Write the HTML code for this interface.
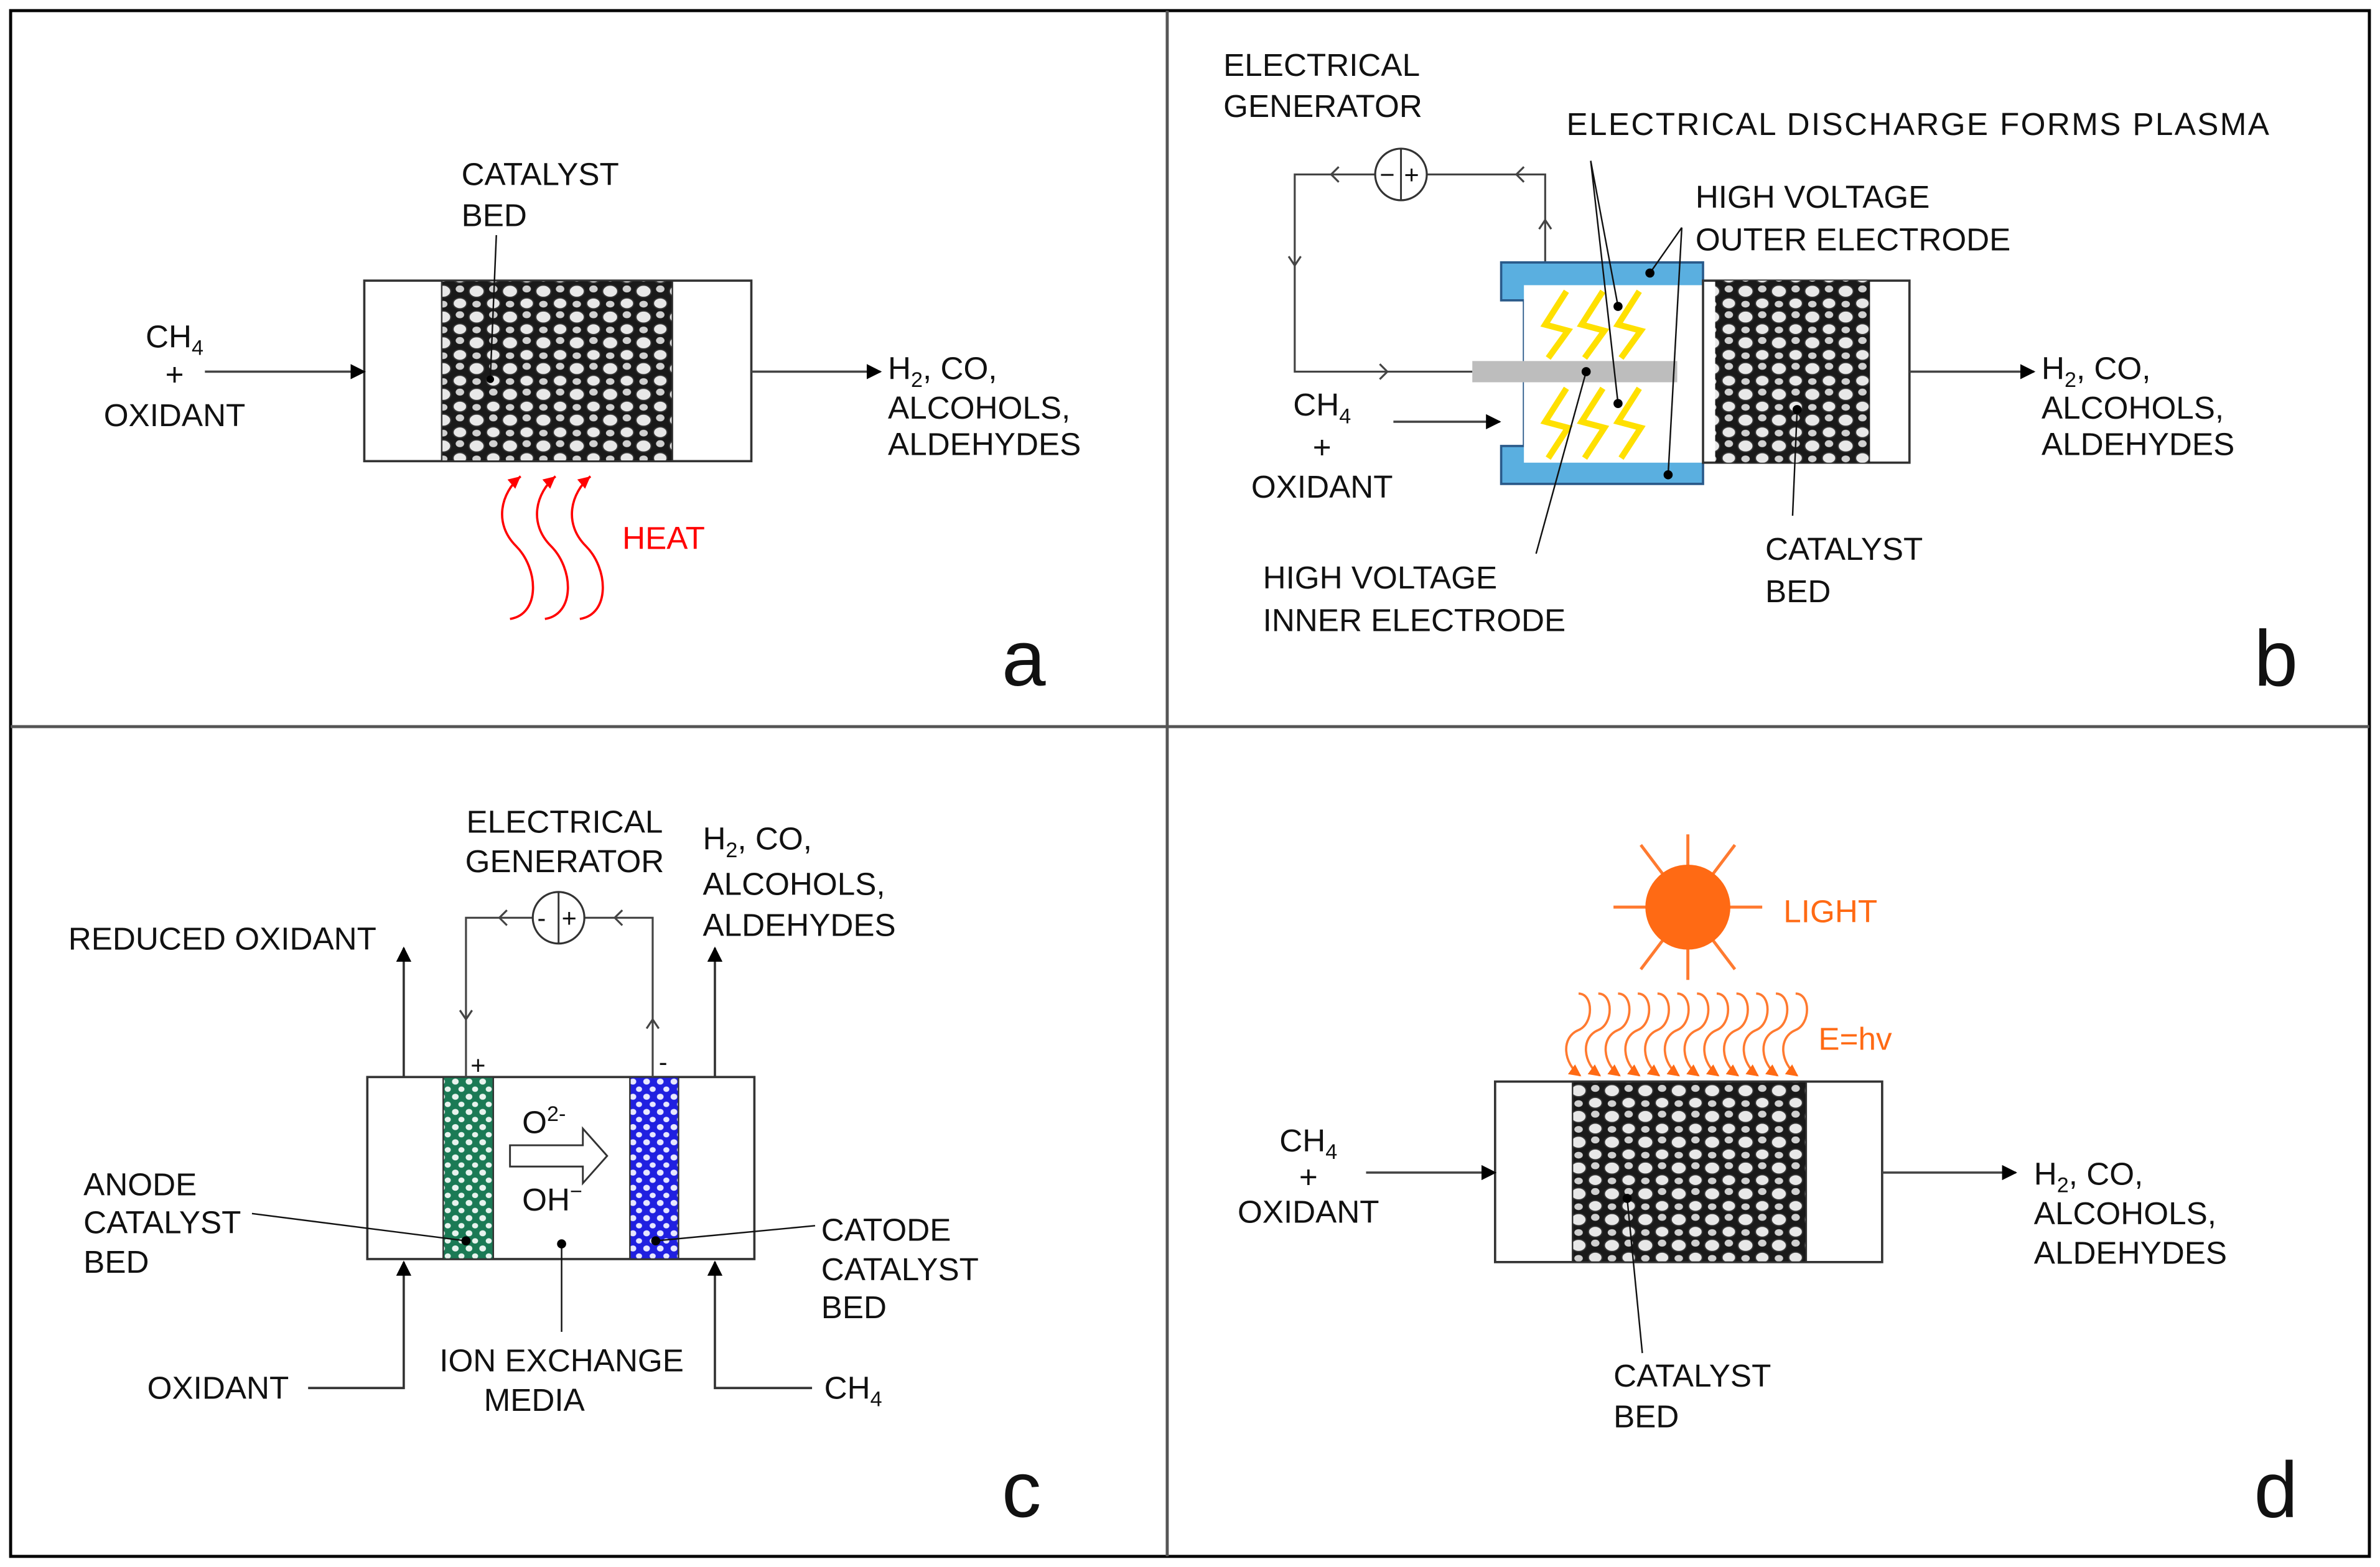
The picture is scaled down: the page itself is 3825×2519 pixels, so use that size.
<!DOCTYPE html>
<html><head><meta charset="utf-8"><style>html,body{margin:0;padding:0;background:#fff}svg{display:block}text{font-family:"Liberation Sans",sans-serif;font-size:21px;fill:#111}</style></head><body>
<svg width="3825" height="2519" viewBox="0 0 1568 1033" preserveAspectRatio="none" xmlns="http://www.w3.org/2000/svg">
<defs>
<pattern id="bed" width="22" height="17" patternUnits="userSpaceOnUse">
<rect width="22" height="17" fill="#1a1a1a"/>
<ellipse cx="6" cy="5" rx="5" ry="4" fill="#e8e8e8" stroke="#333" stroke-width="0.8"/>
<ellipse cx="17" cy="13" rx="4.5" ry="3.6" fill="#e8e8e8" stroke="#333" stroke-width="0.8"/>
<ellipse cx="17" cy="3.5" rx="2.8" ry="2.3" fill="#d0d0d0"/>
<ellipse cx="6" cy="13.5" rx="2.8" ry="2.2" fill="#d0d0d0"/>
</pattern>
<pattern id="bedG" width="9" height="10" patternUnits="userSpaceOnUse">
<rect width="9" height="10" fill="#1b7a55"/>
<ellipse cx="3" cy="3" rx="2.2" ry="2" fill="#e8f3ee"/>
<ellipse cx="7" cy="8" rx="2" ry="1.8" fill="#e8f3ee"/>
</pattern>
<pattern id="bedB" width="9" height="10" patternUnits="userSpaceOnUse">
<rect width="9" height="10" fill="#2020e0"/>
<ellipse cx="3" cy="3" rx="2.2" ry="2" fill="#e8e8ff"/>
<ellipse cx="7" cy="8" rx="2" ry="1.8" fill="#e8e8ff"/>
</pattern>
<marker id="ah" markerWidth="10" markerHeight="10" refX="9" refY="5" orient="auto" markerUnits="userSpaceOnUse"><path d="M0,0 L10,5 L0,10 z" fill="#000"/></marker>
<marker id="ahr" markerWidth="8" markerHeight="10" refX="8" refY="4" orient="auto" markerUnits="userSpaceOnUse"><path d="M0,0 L8,4 L0,8 z" fill="#f00"/></marker>
<marker id="aho" markerWidth="8" markerHeight="8" refX="7" refY="4" orient="auto" markerUnits="userSpaceOnUse"><path d="M0,0 L8,4 L0,8 z" fill="#ff6a14"/></marker>
</defs>
<rect x="7" y="7" width="1554" height="1019" fill="none" stroke="#000" stroke-width="2"/>
<line x1="769" y1="7" x2="769" y2="1026" stroke="#555" stroke-width="2"/>
<line x1="7" y1="479" x2="1561" y2="479" stroke="#555" stroke-width="2"/>

<!-- PANEL A -->
<rect x="240" y="185" width="255" height="119" fill="#fff" stroke="#333" stroke-width="1.5"/>
<rect x="291" y="185" width="152" height="119" fill="url(#bed)" stroke="#333"/>
<line x1="135" y1="245" x2="240" y2="245" stroke="#444" stroke-width="1.5" marker-end="url(#ah)"/>
<line x1="495" y1="245" x2="580" y2="245" stroke="#444" stroke-width="1.5" marker-end="url(#ah)"/>
<text x="115" y="229" text-anchor="middle">CH<tspan font-size="14" dy="5">4</tspan></text>
<text x="115" y="254" text-anchor="middle">+</text>
<text x="115" y="281" text-anchor="middle">OXIDANT</text>
<text x="585" y="250">H<tspan font-size="14" dy="5">2</tspan><tspan dy="-5">, CO,</tspan></text>
<text x="585" y="276">ALCOHOLS,</text>
<text x="585" y="300">ALDEHYDES</text>
<text x="304" y="122">CATALYST</text>
<text x="304" y="149">BED</text>
<line x1="327" y1="155" x2="323" y2="250" stroke="#111" stroke-width="1"/>
<circle cx="323" cy="250" r="2.5" fill="#000"/>
<g fill="none" stroke="#f00" stroke-width="1.5">
<path d="M336,408 C356,405 355,375 340,360 C325,345 330,325 343,314" marker-end="url(#ahr)"/>
<path d="M359,408 C379,405 378,375 363,360 C348,345 353,325 366,314" marker-end="url(#ahr)"/>
<path d="M382,408 C402,405 401,375 386,360 C371,345 376,325 389,314" marker-end="url(#ahr)"/>
</g>
<text x="410" y="362" style="fill:#f00">HEAT</text>
<text x="660" y="452" style="font-size:52px">a</text>

<!-- PANEL B -->
<g stroke="#444" stroke-width="1.3" fill="none">
<polyline points="970,245 853,245 853,115 906,115"/>
<polyline points="940,115 1018,115 1018,174"/>
<path d="M882,110 L877,115 L882,120 M1004,110 L999,115 L1004,120 M849,169 L853,175 L857,169 M1014,151 L1018,145 L1022,151 M909,240 L914,245 L909,250"/>
</g>
<circle cx="923" cy="115" r="17" fill="#fff" stroke="#333" stroke-width="1.3"/>
<line x1="923" y1="98" x2="923" y2="132" stroke="#333" stroke-width="1.2"/>
<text x="909" y="121" style="font-size:17px">−</text><text x="925" y="121" style="font-size:17px">+</text>
<text x="806" y="50">ELECTRICAL</text>
<text x="806" y="77">GENERATOR</text>
<text x="1032" y="89" textLength="463">ELECTRICAL DISCHARGE FORMS PLASMA</text>
<text x="1117" y="137">HIGH VOLTAGE</text>
<text x="1117" y="165">OUTER ELECTRODE</text>
<text x="832" y="388">HIGH VOLTAGE</text>
<text x="832" y="416">INNER ELECTRODE</text>
<text x="1163" y="369">CATALYST</text>
<text x="1163" y="397">BED</text>
<text x="871" y="274" text-anchor="middle">CH<tspan font-size="14" dy="5">4</tspan></text>
<text x="871" y="302" text-anchor="middle">+</text>
<text x="871" y="328" text-anchor="middle">OXIDANT</text>
<text x="1345" y="250">H<tspan font-size="14" dy="5">2</tspan><tspan dy="-5">, CO,</tspan></text>
<text x="1345" y="276">ALCOHOLS,</text>
<text x="1345" y="300">ALDEHYDES</text>
<path d="M989,173 H1122 V319 H989 V294 H1004 V198 H989 Z" fill="#5aafe0" stroke="#2a5a8a" stroke-width="1.5"/>
<rect x="1004" y="188" width="118" height="117" fill="#fff"/>
<rect x="1122" y="185" width="136" height="120" fill="#fff" stroke="#333" stroke-width="1.5"/>
<rect x="1130" y="185" width="102" height="120" fill="url(#bed)"/>
<rect x="970" y="238" width="135" height="14" fill="#bdbdbd"/>
<g fill="none" stroke="#ffe000" stroke-width="4" stroke-linejoin="miter">
<path d="M1032,192 L1018,214 L1033,218 L1020,236"/><path d="M1056,192 L1042,214 L1057,218 L1044,236"/><path d="M1080,192 L1066,214 L1081,218 L1068,236"/>
<path d="M1032,256 L1018,278 L1033,282 L1020,302"/><path d="M1056,256 L1042,278 L1057,282 L1044,302"/><path d="M1080,256 L1066,278 L1081,282 L1068,302"/>
</g>
<line x1="918" y1="278" x2="988" y2="278" stroke="#444" stroke-width="1.5" marker-end="url(#ah)"/>
<line x1="1258" y1="245" x2="1340" y2="245" stroke="#444" stroke-width="1.5" marker-end="url(#ah)"/>
<g stroke="#111" stroke-width="1">
<line x1="1048" y1="106" x2="1066" y2="202"/><line x1="1048" y1="106" x2="1066" y2="266"/>
<line x1="1108" y1="150" x2="1087" y2="180"/><line x1="1108" y1="150" x2="1099" y2="313"/>
<line x1="1012" y1="365" x2="1045" y2="245"/><line x1="1181" y1="340" x2="1184" y2="270"/>
</g>
<g fill="#000"><circle cx="1066" cy="202" r="3"/><circle cx="1066" cy="266" r="3"/><circle cx="1087" cy="180" r="3"/><circle cx="1099" cy="313" r="3"/><circle cx="1045" cy="245" r="3"/><circle cx="1184" cy="270" r="3"/></g>
<text x="1485" y="452" style="font-size:52px">b</text>

<!-- PANEL C -->
<rect x="242" y="710" width="255" height="120" fill="#fff" stroke="#333" stroke-width="1.5"/>
<rect x="292" y="710" width="33" height="120" fill="url(#bedG)" stroke="#333"/>
<rect x="415" y="710" width="32" height="120" fill="url(#bedB)" stroke="#333"/>
<g stroke="#444" stroke-width="1.3" fill="none">
<polyline points="307,710 307,605 351,605"/><polyline points="385,605 430,605 430,710"/>
<path d="M334,600 L329,605 L334,610 M410,600 L405,605 L410,610 M303,666 L307,672 L311,666 M426,678 L430,672 L434,678"/>
</g>
<circle cx="368" cy="605" r="17" fill="#fff" stroke="#333" stroke-width="1.3"/>
<line x1="368" y1="588" x2="368" y2="622" stroke="#333" stroke-width="1.2"/>
<text x="354" y="611" style="font-size:17px">-</text><text x="370" y="611" style="font-size:17px">+</text>
<text x="372" y="549" text-anchor="middle">ELECTRICAL</text>
<text x="372" y="575" text-anchor="middle">GENERATOR</text>
<text x="463" y="560">H<tspan font-size="14" dy="5">2</tspan><tspan dy="-5">, CO,</tspan></text>
<text x="463" y="590">ALCOHOLS,</text>
<text x="463" y="617">ALDEHYDES</text>
<text x="45" y="626">REDUCED OXIDANT</text>
<line x1="266" y1="710" x2="266" y2="625" stroke="#333" stroke-width="1.5" marker-end="url(#ah)"/>
<line x1="471" y1="710" x2="471" y2="625" stroke="#333" stroke-width="1.5" marker-end="url(#ah)"/>
<text x="310" y="708" style="font-size:17px">+</text><text x="434" y="706" style="font-size:17px">-</text>
<path d="M336,755 H384 V744 L400,762 L384,780 V769 H336 Z" fill="#fff" stroke="#333" stroke-width="1.2"/>
<text x="344" y="747">O<tspan font-size="14" dy="-8">2-</tspan></text>
<text x="344" y="798">OH<tspan font-size="14" dy="-8">−</tspan></text>
<text x="55" y="788">ANODE</text><text x="55" y="813">CATALYST</text><text x="55" y="839">BED</text>
<text x="541" y="818">CATODE</text><text x="541" y="844">CATALYST</text><text x="541" y="869">BED</text>
<text x="370" y="904" text-anchor="middle">ION EXCHANGE</text><text x="352" y="930" text-anchor="middle">MEDIA</text>
<g stroke="#111" stroke-width="1">
<line x1="166" y1="800" x2="307" y2="818"/><line x1="537" y1="808" x2="432" y2="818"/><line x1="370" y1="878" x2="370" y2="820"/>
</g>
<g fill="#000"><circle cx="307" cy="818" r="3"/><circle cx="432" cy="818" r="3"/><circle cx="370" cy="820" r="3"/></g>
<text x="97" y="922">OXIDANT</text>
<text x="543" y="922">CH<tspan font-size="14" dy="5">4</tspan></text>
<polyline points="203,915 266,915 266,832" fill="none" stroke="#333" stroke-width="1.5" marker-end="url(#ah)"/>
<polyline points="535,915 471,915 471,832" fill="none" stroke="#333" stroke-width="1.5" marker-end="url(#ah)"/>
<text x="660" y="1000" style="font-size:52px">c</text>

<!-- PANEL D -->
<g stroke="#ff7a30" stroke-width="2">
<line x1="1112" y1="550" x2="1112" y2="646"/><line x1="1063" y1="598" x2="1161" y2="598"/>
<line x1="1081" y1="557" x2="1143" y2="639"/><line x1="1143" y1="557" x2="1081" y2="639"/>
</g>
<ellipse cx="1112" cy="598" rx="28" ry="28" fill="#ff6a14"/>
<text x="1175" y="608" style="fill:#ff6a14">LIGHT</text>
<text x="1198" y="692" style="fill:#ff6a14">E=hv</text>
<g fill="none" stroke="#ff7a30" stroke-width="1.5">
<path d="M1040,655 c10,0 10,20 0,24 c-12,5 -10,22 1,30" marker-end="url(#aho)"/>
<path d="M1053,655 c10,0 10,20 0,24 c-12,5 -10,22 1,30" marker-end="url(#aho)"/>
<path d="M1066,655 c10,0 10,20 0,24 c-12,5 -10,22 1,30" marker-end="url(#aho)"/>
<path d="M1079,655 c10,0 10,20 0,24 c-12,5 -10,22 1,30" marker-end="url(#aho)"/>
<path d="M1092,655 c10,0 10,20 0,24 c-12,5 -10,22 1,30" marker-end="url(#aho)"/>
<path d="M1105,655 c10,0 10,20 0,24 c-12,5 -10,22 1,30" marker-end="url(#aho)"/>
<path d="M1118,655 c10,0 10,20 0,24 c-12,5 -10,22 1,30" marker-end="url(#aho)"/>
<path d="M1131,655 c10,0 10,20 0,24 c-12,5 -10,22 1,30" marker-end="url(#aho)"/>
<path d="M1144,655 c10,0 10,20 0,24 c-12,5 -10,22 1,30" marker-end="url(#aho)"/>
<path d="M1157,655 c10,0 10,20 0,24 c-12,5 -10,22 1,30" marker-end="url(#aho)"/>
<path d="M1170,655 c10,0 10,20 0,24 c-12,5 -10,22 1,30" marker-end="url(#aho)"/>
<path d="M1183,655 c10,0 10,20 0,24 c-12,5 -10,22 1,30" marker-end="url(#aho)"/>
</g>
<rect x="985" y="713" width="255" height="119" fill="#fff" stroke="#333" stroke-width="1.5"/>
<rect x="1036" y="713" width="154" height="119" fill="url(#bed)" stroke="#333"/>
<line x1="900" y1="773" x2="985" y2="773" stroke="#444" stroke-width="1.5" marker-end="url(#ah)"/>
<line x1="1240" y1="773" x2="1328" y2="773" stroke="#444" stroke-width="1.5" marker-end="url(#ah)"/>
<text x="862" y="759" text-anchor="middle">CH<tspan font-size="14" dy="5">4</tspan></text>
<text x="862" y="783" text-anchor="middle">+</text>
<text x="862" y="806" text-anchor="middle">OXIDANT</text>
<text x="1340" y="781">H<tspan font-size="14" dy="5">2</tspan><tspan dy="-5">, CO,</tspan></text>
<text x="1340" y="807">ALCOHOLS,</text>
<text x="1340" y="833">ALDEHYDES</text>
<text x="1063" y="914">CATALYST</text><text x="1063" y="941">BED</text>
<line x1="1082" y1="892" x2="1072" y2="790" stroke="#111" stroke-width="1"/>
<circle cx="1072" cy="790" r="3" fill="#000"/>
<text x="1485" y="1000" style="font-size:52px">d</text>
</svg>
</body></html>
